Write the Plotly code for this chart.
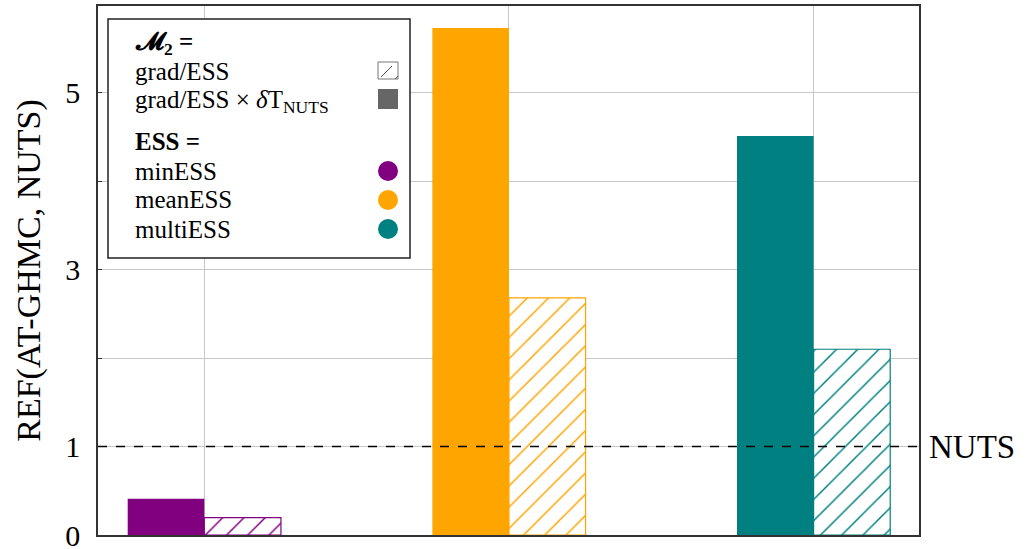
import plotly.graph_objects as go

# Relative efficiency of AT-GHMC vs NUTS for three ESS definitions
ess_kinds = ["minESS", "meanESS", "multiESS"]
ess_colors = ["#800080", "#FFA500", "#008080"]
ref_grad_time = [0.41, 5.73, 4.51]   # grad/ESS x dT_NUTS (solid)
ref_grad = [0.196, 2.68, 2.10]       # grad/ESS (hatched)

y_tickvals = [0, 1, 2, 3, 4, 5]
y_ticktext = ["0", "1", "", "3", "", "5"]

FONT = "Liberation Serif"
W, H = 1028, 549
L, R, T, B = 98, 109, 6, 14
PW, PH = W - L - R, H - T - B


def px(x):
    return (x - L) / PW


def py(y):
    return (H - B - y) / PH


fig = go.Figure()
fig.add_trace(go.Bar(
    x=ess_kinds, y=ref_grad_time, name="grad/ESS × δT",
    marker=dict(color=ess_colors, line=dict(width=0)),
))
fig.add_trace(go.Bar(
    x=ess_kinds, y=ref_grad, name="grad/ESS",
    marker=dict(
        color="white",
        line=dict(color=ess_colors, width=1.2),
        pattern=dict(shape="/", fgcolor=ess_colors, fgopacity=1, bgcolor="white",
                     size=15, solidity=0.1, fillmode="overlay"),
    ),
))

shapes = []
# reference line for NUTS
shapes.append(dict(type="line", xref="paper", yref="y", x0=0, x1=1, y0=1, y1=1,
                   line=dict(color="black", width=1.6, dash="dash"), layer="above"))

# legend box
shapes.append(dict(type="rect", xref="paper", yref="paper",
                   x0=px(108), x1=px(410), y0=py(258), y1=py(19),
                   line=dict(color="#222222", width=1.5), fillcolor="white", layer="above"))
# hatched swatch
shapes.append(dict(type="rect", xref="paper", yref="paper",
                   x0=px(378), x1=px(398), y0=py(79), y1=py(62),
                   line=dict(color="#777777", width=1), fillcolor="white", layer="above"))
shapes.append(dict(type="line", xref="paper", yref="paper",
                   x0=px(381), x1=px(392), y0=py(77), y1=py(66),
                   line=dict(color="#555555", width=1), layer="above"))
shapes.append(dict(type="line", xref="paper", yref="paper",
                   x0=px(395), x1=px(398), y0=py(79), y1=py(76),
                   line=dict(color="#555555", width=1), layer="above"))
# solid swatch
shapes.append(dict(type="rect", xref="paper", yref="paper",
                   x0=px(378), x1=px(398), y0=py(109), y1=py(89),
                   line=dict(width=0), fillcolor="#666666", layer="above"))
# colour dots
for cy, col in zip([171, 200, 229], ess_colors):
    shapes.append(dict(type="circle", xref="paper", yref="paper",
                       x0=px(378), x1=px(398), y0=py(cy + 10), y1=py(cy - 10),
                       line=dict(width=0), fillcolor=col, layer="above"))

annotations = []
legend_rows = [
    (43, "<b>𝓜<sub>2</sub> =</b>"),
    (72, "grad/ESS"),
    (101, "grad/ESS × <i>δ</i>T<sub>NUTS</sub>"),
    (141, "<b>ESS =</b>"),
    (171, "minESS"),
    (200, "meanESS"),
    (229, "multiESS"),
]
for yy, txt in legend_rows:
    annotations.append(dict(xref="paper", yref="paper", x=px(133), y=py(yy),
                            text=txt, showarrow=False, xanchor="left", yanchor="middle",
                            font=dict(family=FONT, size=25, color="black")))
annotations.append(dict(xref="paper", yref="y", x=1, y=1, text="NUTS", showarrow=False,
                        xanchor="left", yanchor="middle", xshift=8,
                        font=dict(family=FONT, size=33, color="black")))

fig.update_layout(
    width=W, height=H,
    margin=dict(l=L, r=R, t=T, b=B, autoexpand=False),
    paper_bgcolor="white", plot_bgcolor="white",
    barmode="group", bargap=0.497, bargroupgap=0,
    showlegend=False,
    shapes=shapes, annotations=annotations,
    font=dict(family=FONT, size=26, color="black"),
)
fig.update_xaxes(
    range=[-0.349, 2.346], showticklabels=False, automargin=False,
    showgrid=True, gridcolor="#c8c8c8", gridwidth=1,
    showline=True, linecolor="#333333", linewidth=1.5, mirror=True,
    ticks="", zeroline=False,
)
fig.update_yaxes(
    range=[0, 5.98], tickvals=y_tickvals, ticktext=y_ticktext, automargin=False,
    showgrid=True, gridcolor="#c8c8c8", gridwidth=1,
    showline=True, linecolor="#333333", linewidth=1.5, mirror=True,
    ticks="inside", ticklen=4, tickcolor="#333333", zeroline=False,
    tickfont=dict(family=FONT, size=30), ticklabelstandoff=10,
    ticklabeloverflow="allow",
    title=dict(text="REF(AT-GHMC, NUTS)", font=dict(family=FONT, size=34), standoff=14),
)

fig.write_html("out.html")
